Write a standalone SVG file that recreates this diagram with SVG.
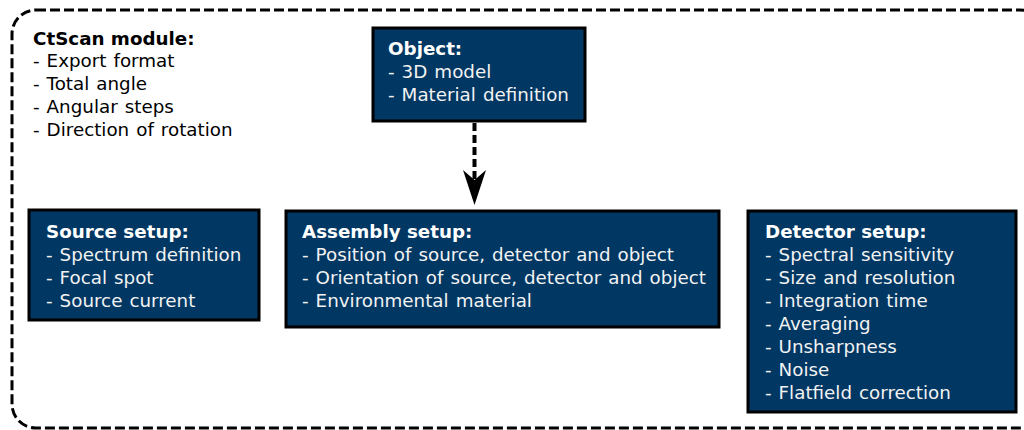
<svg xmlns="http://www.w3.org/2000/svg" width="1024" height="430" viewBox="0 0 1024 430">
  <style>
    .box{fill:#003763;stroke:#000;stroke-width:3}
    .t{font-family:"DejaVu Sans",Verdana,sans-serif;font-size:18.3px;word-spacing:1.2px;fill:#f2f2f2}
    .h{font-weight:bold;fill:#fff;word-spacing:0}
    .k{fill:#000}
  </style>
  <rect width="1024" height="430" fill="#fff"/>
  <g id="ctscan">
    <rect x="12" y="10" width="1032" height="418" rx="24" fill="none" stroke="#000" stroke-width="3" stroke-dasharray="10 4"/>
    <text class="t k" x="33">
      <tspan x="33" y="45" font-weight="bold" word-spacing="0">CtScan module:</tspan>
      <tspan x="33" y="67">- Export format</tspan>
      <tspan x="33" y="90">- Total angle</tspan>
      <tspan x="33" y="113">- Angular steps</tspan>
      <tspan x="33" y="136">- Direction of rotation</tspan>
    </text>
  </g>
  <g id="object">
    <rect class="box" x="373" y="28" width="212" height="93"/>
    <text class="t"><tspan class="h" x="388" y="55">Object:</tspan><tspan x="388" y="78">- 3D model</tspan><tspan x="388" y="101">- Material definition</tspan></text>
  </g>
  <g id="source">
    <rect class="box" x="29" y="210" width="230" height="110"/>
    <text class="t"><tspan class="h" x="46" y="238">Source setup:</tspan><tspan x="46" y="261">- Spectrum definition</tspan><tspan x="46" y="284">- Focal spot</tspan><tspan x="46" y="307">- Source current</tspan></text>
  </g>
  <g id="assembly">
    <rect class="box" x="286" y="211" width="433" height="116"/>
    <text class="t"><tspan class="h" x="302" y="238">Assembly setup:</tspan><tspan x="302" y="261">- Position of source, detector and object</tspan><tspan x="302" y="284">- Orientation of source, detector and object</tspan><tspan x="302" y="307">- Environmental material</tspan></text>
  </g>
  <g id="detector">
    <rect class="box" x="748" y="211" width="268" height="201"/>
    <text class="t"><tspan class="h" x="765" y="238">Detector setup:</tspan><tspan x="765" y="261">- Spectral sensitivity</tspan><tspan x="765" y="284">- Size and resolution</tspan><tspan x="765" y="307">- Integration time</tspan><tspan x="765" y="330">- Averaging</tspan><tspan x="765" y="353">- Unsharpness</tspan><tspan x="765" y="376">- Noise</tspan><tspan x="765" y="399">- Flatfield correction</tspan></text>
  </g>
  <g id="connectors">
    <line x1="474.5" y1="123" x2="474.5" y2="180" stroke="#000" stroke-width="4" stroke-dasharray="8 4"/>
    <path d="M463,170 L474.5,180 L486,170 L474.5,205 Z" fill="#000"/>
  </g>
</svg>
